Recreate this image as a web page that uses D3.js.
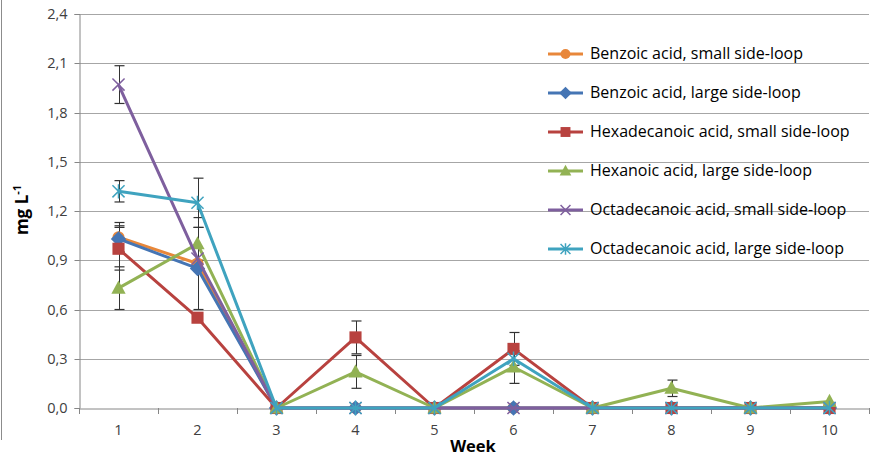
<!DOCTYPE html>
<html><head><meta charset="utf-8">
<script src="https://cdn.jsdelivr.net/npm/d3@7"></script>
<style>body{margin:0;background:#fff}svg{display:block;font-family:"Open Sans",sans-serif}</style>
</head><body>
<svg id="c" width="870" height="457"></svg>
<script>
const weeks = [1,2,3,4,5,6,7,8,9,10];
const yTicks = [0,0.3,0.6,0.9,1.2,1.5,1.8,2.1,2.4];
const seriesNames = ["Benzoic acid, small side-loop","Benzoic acid, large side-loop","Hexadecanoic acid, small side-loop","Hexanoic acid, large side-loop","Octadecanoic acid, small side-loop","Octadecanoic acid, large side-loop"];
const benzoicSmall      = [1.04, 0.88, 0, 0, 0, 0, 0, 0, 0, 0];
const benzoicLarge      = [1.03, 0.85, 0, 0, 0, 0, 0, 0, 0, 0];
const hexadecanoicSmall = [0.97, 0.55, 0, 0.43, 0, 0.36, 0, 0, 0, 0];
const hexanoicLarge     = [0.73, 1.00, 0, 0.22, 0, 0.25, 0, 0.12, 0, 0.04];
const octadecanoicSmall = [1.97, 0.91, 0, 0, 0, 0, 0, 0, 0, 0];
const octadecanoicLarge = [1.32, 1.25, 0, 0, 0, 0.30, 0, 0, 0, 0];
const benzoicSmallErr      = [0.09, 0.28, null, null, null, null, null, null, null, null];
const benzoicLargeErr      = [0.08, null, null, null, null, null, null, null, null, null];
const hexadecanoicSmallErr = [0.13, null, null, 0.10, null, 0.10, null, null, null, null];
const hexanoicLargeErr     = [0.13, 0.10, null, 0.10, null, 0.10, null, 0.05, null, null];
const octadecanoicSmallErr = [0.115, null, null, null, null, null, null, null, null, null];
const octadecanoicLargeErr = [0.065, 0.15, null, null, null, null, null, null, null, null];

const colors = ["#E8873A","#4575B4","#B8423F","#92B254","#7E5F9E","#3FA3BF"];
const shapes = ["circle","diamond","square","triangle","x","star"];
const values = [benzoicSmall,benzoicLarge,hexadecanoicSmall,hexanoicLarge,octadecanoicSmall,octadecanoicLarge];
const errors = [benzoicSmallErr,benzoicLargeErr,hexadecanoicSmallErr,hexanoicLargeErr,octadecanoicSmallErr,octadecanoicLargeErr];

const svg = d3.select("#c");
const L = 79, R = 869, T = 14, B = 408;
const x = d3.scaleBand().domain(weeks).range([L, R]);
const y = d3.scaleLinear().domain([0, 2.4]).range([B, T]);
const fmt = d => d3.format(".1f")(d).replace(".", ",");

// outer border
svg.append("line").attr("x1",1.5).attr("x2",1.5).attr("y1",0).attr("y2",440).attr("stroke","#8c8c8c");

// grid
svg.append("g").selectAll("line").data(yTicks.filter(d=>d>0)).join("line")
  .attr("x1", L).attr("x2", R).attr("y1", d=>Math.round(y(d))+0.5).attr("y2", d=>Math.round(y(d))+0.5)
  .attr("stroke", "#a6a6a6").attr("stroke-width", 1);

// y axis
const ya = svg.append("g").attr("transform", `translate(${L+0.5},0)`)
  .call(d3.axisLeft(y).tickValues(yTicks).tickFormat(fmt).tickSize(5).tickPadding(7));
ya.select(".domain").attr("stroke","#868686");
ya.selectAll(".tick line").attr("stroke","#868686");
ya.selectAll("text").attr("font-size","14.5px").attr("fill","#404040").attr("font-family","Open Sans, sans-serif");
ya.selectAll(".tick").attr("transform", d=>`translate(0,${Math.round(y(d))+0.5})`);

// x axis
const xa = svg.append("g").attr("transform", `translate(0,${B+0.5})`)
  .call(d3.axisBottom(x).tickSize(0).tickPadding(16));
xa.select(".domain").attr("stroke","#868686");
xa.selectAll("text").attr("font-size","14.5px").attr("fill","#404040").attr("font-family","Open Sans, sans-serif");
svg.append("g").selectAll("line").data(d3.range(weeks.length+1)).join("line")
  .attr("x1", i => Math.round(L + i*x.step())+0.5).attr("x2", i => Math.round(L + i*x.step())+0.5)
  .attr("y1", B).attr("y2", B+6).attr("stroke","#868686");

// axis titles
svg.append("text").attr("x", 473).attr("y", 452).attr("text-anchor","middle")
  .attr("font-weight","bold").attr("font-size","16.5px").attr("fill","#000").text("Week");
const yl = svg.append("text").attr("transform","translate(28,210) rotate(-90)").attr("text-anchor","middle")
  .attr("font-weight","bold").attr("font-size","17px").attr("fill","#000");
yl.append("tspan").text("mg L");
yl.append("tspan").attr("dy","-7").attr("font-size","11px").text("-1");

const cx = w => x(w) + x.bandwidth()/2;

function marker(g, shape, color, px, py, s) {
  if (shape==="circle") g.append("circle").attr("cx",px).attr("cy",py).attr("r",s*0.55).attr("fill",color);
  else if (shape==="diamond") g.append("path").attr("d",`M${px},${py-s*0.7}L${px+s*0.7},${py}L${px},${py+s*0.7}L${px-s*0.7},${py}Z`).attr("fill",color);
  else if (shape==="square") g.append("rect").attr("x",px-s*0.55).attr("y",py-s*0.55).attr("width",s*1.1).attr("height",s*1.1).attr("fill",color);
  else if (shape==="triangle") g.append("path").attr("d",`M${px},${py-s*0.7}L${px+s*0.65},${py+s*0.5}L${px-s*0.65},${py+s*0.5}Z`).attr("fill",color);
  else if (shape==="x") g.append("path").attr("d",`M${px-s*0.55},${py-s*0.55}L${px+s*0.55},${py+s*0.55}M${px-s*0.55},${py+s*0.55}L${px+s*0.55},${py-s*0.55}`).attr("stroke",color).attr("stroke-width",1.5).attr("fill","none");
  else if (shape==="star") g.append("path").attr("d",`M${px-s*0.55},${py-s*0.55}L${px+s*0.55},${py+s*0.55}M${px-s*0.55},${py+s*0.55}L${px+s*0.55},${py-s*0.55}M${px},${py-s*0.65}L${px},${py+s*0.65}`).attr("stroke",color).attr("stroke-width",1.5).attr("fill","none");
}

// error bars
const eg = svg.append("g");
errors.forEach((arr, si) => {
  arr.forEach((e, i) => {
    if (e == null) return;
    const v = values[si][i], px = Math.round(cx(weeks[i]))+0.5;
    const y1 = y(v+e), y2 = y(Math.max(0, v-e));
    eg.append("line").attr("x1",px).attr("x2",px).attr("y1",y1).attr("y2",y2).attr("stroke","#333").attr("stroke-width",1);
    [y1, y2].forEach(yy => eg.append("line").attr("x1",px-5).attr("x2",px+5).attr("y1",yy).attr("y2",yy).attr("stroke","#333").attr("stroke-width",1.2));
  });
});

// series
const line = d3.line().x((d,i)=>cx(weeks[i])).y(d=>y(d));
values.forEach((vals, si) => {
  const g = svg.append("g");
  g.append("path").attr("d", line(vals)).attr("fill","none").attr("stroke",colors[si]).attr("stroke-width",3).attr("stroke-linejoin","round");
  vals.forEach((v,i) => marker(g, shapes[si], colors[si], cx(weeks[i]), y(v), 11));
});

// legend
const lg = svg.append("g");
seriesNames.forEach((n, si) => {
  const yy = 54 + si*39;
  lg.append("line").attr("x1",548).attr("x2",583).attr("y1",yy).attr("y2",yy).attr("stroke",colors[si]).attr("stroke-width",3);
  marker(lg, shapes[si], colors[si], 565.5, yy, 9);
  lg.append("text").attr("x",590).attr("y",yy+5).attr("font-size","16px").attr("fill","#000").text(n);
});
</script>
</body></html>
